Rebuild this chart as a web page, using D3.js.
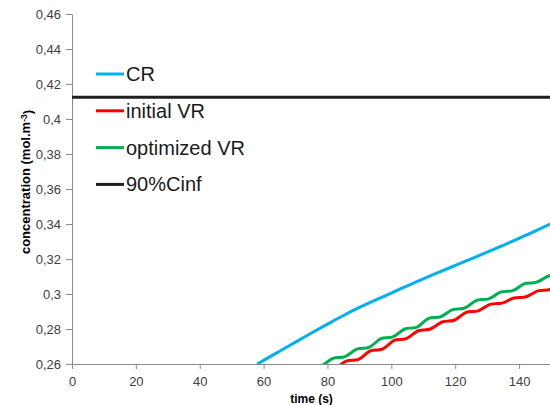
<!DOCTYPE html>
<html>
<head>
<meta charset="utf-8">
<script src="https://cdnjs.cloudflare.com/ajax/libs/d3/7.8.5/d3.min.js"></script>
<style>
    body { margin: 0; background: #fff; }
    #chart-area text { font-family: "Liberation Sans", Arial, sans-serif; }
</style>
</head>
<body>
<div id="chart-area"></div>
<script>

// CR (smooth curve)
var crTime = [58, 60, 65, 70, 75, 80, 85, 90, 95, 100, 105, 110, 115, 120, 125, 130, 135, 140, 145, 150];
var crConc = [0.2600, 0.2621, 0.2673, 0.2725, 0.2777, 0.2828, 0.2877, 0.2923, 0.2965, 0.3005,
              0.3047, 0.3087, 0.3125, 0.3163, 0.3201, 0.3239, 0.3278, 0.3318, 0.3359, 0.3402];

// initial VR (wavy)
var initTime = [80.3, 82.2, 84.1, 85.9, 87.8, 89.7, 91.6, 93.4, 95.3, 97.2, 99.1, 100.9, 102.8,
                104.7, 106.6, 108.4, 110.3, 112.2, 114.1, 115.9, 117.8, 119.7, 121.6, 123.4, 125.3,
                127.2, 129.1, 130.9, 132.8, 134.7, 136.6, 138.4, 140.3, 142.2, 144.1, 145.9, 147.8,
                149.7, 151.6, 153.4, 155.3];
var initConc = [0.2570, 0.2575, 0.2596, 0.2616, 0.2621, 0.2626, 0.2651, 0.2675, 0.2680, 0.2685, 0.2710, 0.2735, 0.2740,
                0.2745, 0.2768, 0.2790, 0.2795, 0.2800, 0.2820, 0.2840, 0.2845, 0.2850, 0.2873, 0.2895, 0.2900,
                0.2904, 0.2923, 0.2941, 0.2945, 0.2948, 0.2963, 0.2977, 0.2980, 0.2984, 0.3001, 0.3018, 0.3022,
                0.3026, 0.3046, 0.3066, 0.3070];

// optimized VR (wavy)
var optTime = [76.1, 78.0, 79.9, 81.7, 83.6, 85.5, 87.4, 89.2, 91.1, 93.0, 94.9, 96.7, 98.6,
               100.5, 102.4, 104.2, 106.1, 108.0, 109.9, 111.7, 113.6, 115.5, 117.4, 119.2, 121.1,
               123.0, 124.9, 126.7, 128.6, 130.5, 132.4, 134.2, 136.1, 138.0, 139.9, 141.7, 143.6,
               145.5, 147.4, 149.2, 151.1];
var optConc = [0.2584, 0.2589, 0.2611, 0.2632, 0.2637, 0.2642, 0.2664, 0.2685, 0.2690, 0.2695, 0.2720, 0.2745, 0.2750,
               0.2755, 0.2778, 0.2800, 0.2805, 0.2810, 0.2836, 0.2861, 0.2866, 0.2870, 0.2891, 0.2911, 0.2915,
               0.2920, 0.2942, 0.2964, 0.2968, 0.2972, 0.2992, 0.3011, 0.3015, 0.3019, 0.3039, 0.3059, 0.3063,
               0.3068, 0.3085, 0.3103, 0.3108];

// 90% Cinf (constant)
var cinfTime = [0, 150];
var cinfConc = [0.4125, 0.4125];

var seriesNames = ["CR", "initial VR", "optimized VR", "90%Cinf"];
var seriesColors = ["#00b0f0", "#ff0000", "#00b050", "#1f1f1f"];

var xTicks = [0, 20, 40, 60, 80, 100, 120, 140];
var yTicks = [0.26, 0.28, 0.3, 0.32, 0.34, 0.36, 0.38, 0.4, 0.42, 0.44, 0.46];


ConcChart = function(_parentElement) {
    this.parentElement = _parentElement;
    this.initVis();
};

ConcChart.prototype.initVis = function() {
    var vis = this;

    vis.margin = {top: 14, right: -1, bottom: 41, left: 72};
    vis.width = 550 - vis.margin.left - vis.margin.right;
    vis.height = 405 - vis.margin.top - vis.margin.bottom;

    vis.svg = d3.select("#" + vis.parentElement).append("svg")
        .attr("width", 550)
        .attr("height", 405);

    vis.g = vis.svg.append("g")
        .attr("transform", "translate(" + vis.margin.left + "," + vis.margin.top + ")");

    vis.x = d3.scaleLinear().domain([0, 150]).range([0, vis.width]);
    vis.y = d3.scaleLinear().domain([0.26, 0.46]).range([vis.height, 0]);

    // comma as decimal mark
    var fmt = d3.formatLocale({decimal: ",", thousands: ".", grouping: [3], currency: ["", ""]}).format("~g");

    var xAxis = d3.axisBottom(vis.x).tickValues(xTicks).tickSize(5).tickSizeOuter(0).tickPadding(8);
    var yAxis = d3.axisLeft(vis.y).tickValues(yTicks).tickSize(6).tickSizeOuter(0).tickPadding(5).tickFormat(fmt);

    vis.xAxisG = vis.g.append("g")
        .attr("transform", "translate(0," + vis.height + ")")
        .call(xAxis);
    vis.yAxisG = vis.g.append("g").call(yAxis);

    vis.g.selectAll(".domain, .tick line").attr("stroke", "#8c8c8c");
    vis.g.selectAll(".tick text")
        .attr("fill", "#404040")
        .style("font-size", "13px");

    // axis titles
    vis.g.append("text")
        .attr("x", vis.x(75))
        .attr("y", vis.height + 39)
        .attr("text-anchor", "middle")
        .style("font-size", "12px")
        .style("font-weight", "bold")
        .text("time (s)");

    var yt = vis.svg.append("text")
        .attr("transform", "translate(30,182) rotate(-90)")
        .attr("text-anchor", "middle")
        .style("font-size", "13px")
        .style("font-weight", "bold");
    yt.append("tspan").text("concentration  (mol.m");
    yt.append("tspan").attr("dy", "-0.4em").style("font-size", "8.5px").text("-3");
    yt.append("tspan").attr("dy", "0.4em").text(")");

    vis.g.append("clipPath").attr("id", "plot-clip")
        .append("rect")
        .attr("width", vis.width)
        .attr("height", vis.height);

    vis.line = d3.line()
        .x(function(d) { return vis.x(d.t); })
        .y(function(d) { return vis.y(d.c); })
        .curve(d3.curveNatural);

    vis.updateVis();
};

ConcChart.prototype.updateVis = function() {
    var vis = this;

    var zipped = function(ts, cs) {
        return ts.map(function(t, i) { return {t: t, c: cs[i]}; });
    };
    vis.data = [
        zipped(crTime, crConc),
        zipped(initTime, initConc),
        zipped(optTime, optConc),
        zipped(cinfTime, cinfConc)
    ];

    vis.g.append("g")
        .attr("clip-path", "url(#plot-clip)")
        .selectAll("path")
        .data(vis.data)
        .enter()
        .append("path")
        .attr("fill", "none")
        .attr("stroke", function(d, i) { return seriesColors[i]; })
        .attr("stroke-width", 3)
        .attr("d", vis.line);

    // legend, no box
    var legend = vis.svg.append("g").attr("transform", "translate(96,74)");
    var item = legend.selectAll("g")
        .data(seriesNames)
        .enter()
        .append("g")
        .attr("transform", function(d, i) { return "translate(0," + i * 36.8 + ")"; });

    item.append("line")
        .attr("x1", 0).attr("x2", 28)
        .attr("stroke", function(d, i) { return seriesColors[i]; })
        .attr("stroke-width", 3);

    item.append("text")
        .attr("x", 30)
        .attr("y", 7)
        .attr("fill", "#1a1a1a")
        .style("font-size", "20px")
        .text(function(d) { return d; });
};

new ConcChart("chart-area");

</script>
</body>
</html>
